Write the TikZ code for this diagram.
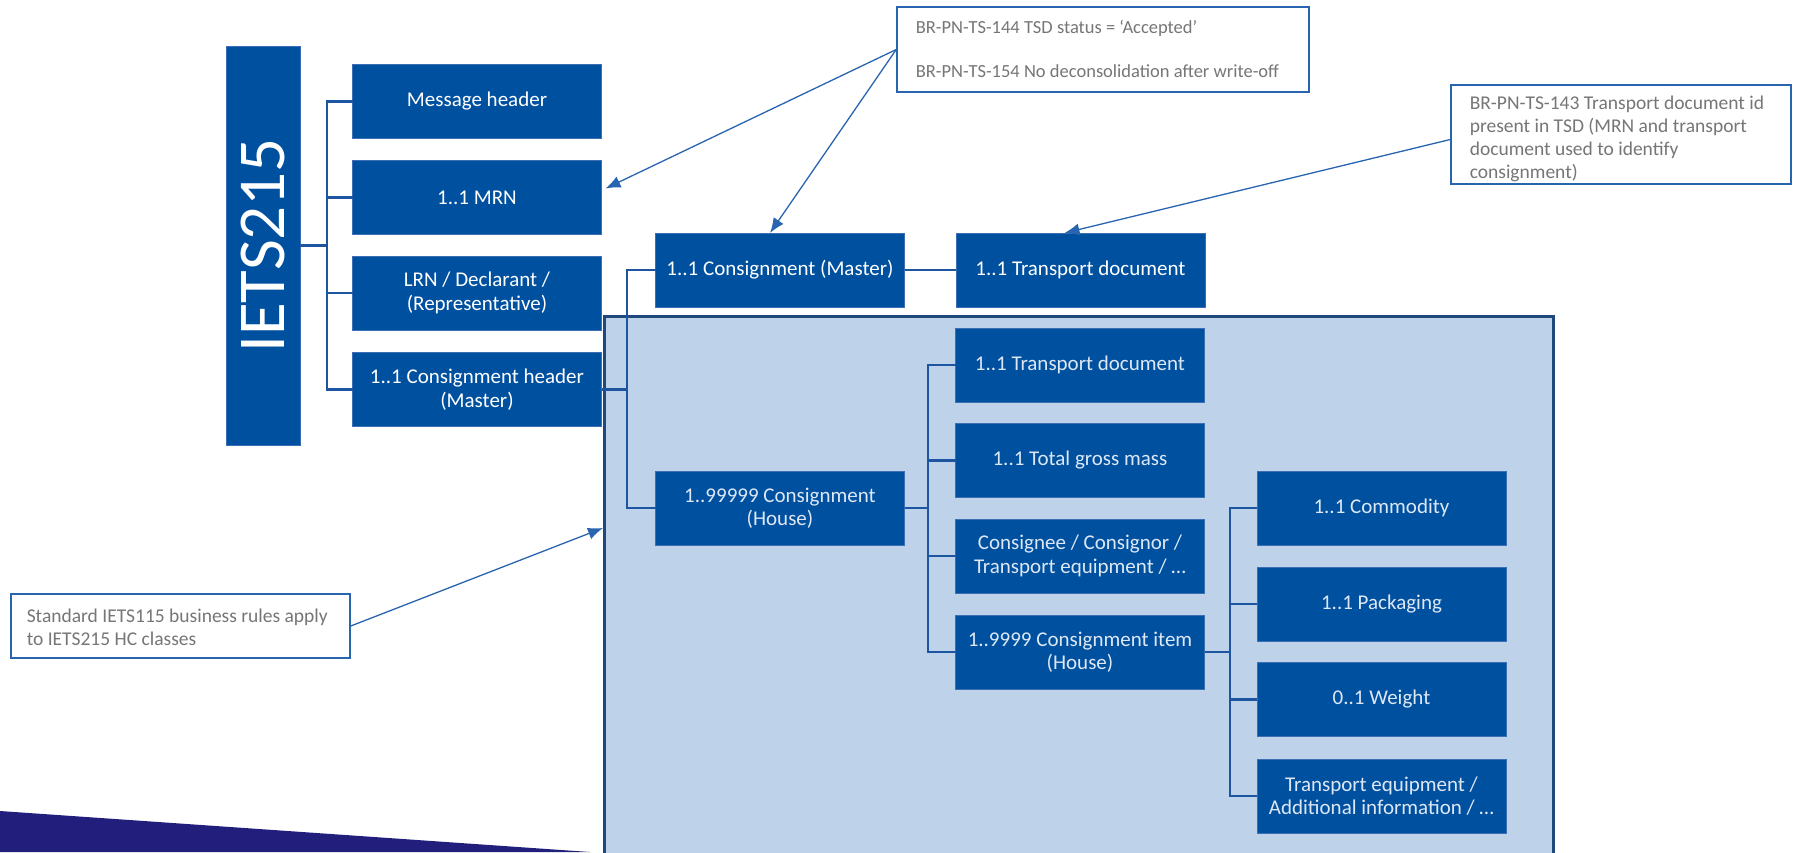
\documentclass[tikz,border=0pt]{standalone}
\usepackage{fontspec}
\setmainfont{Carlito}
\usepackage{graphicx}
\usetikzlibrary{arrows.meta,calc}
\definecolor{boxblue}{RGB}{0,80,160}
\definecolor{boxedge}{RGB}{60,110,180}
\definecolor{regionfill}{RGB}{190,211,233}
\definecolor{regionedge}{RGB}{31,73,125}
\definecolor{connblue}{RGB}{30,85,160}
\definecolor{callblue}{RGB}{40,100,175}
\definecolor{graytext}{RGB}{118,118,118}
\definecolor{navyband}{RGB}{34,31,124}
\definecolor{lighttext}{RGB}{222,232,245}
\begin{document}
\begin{tikzpicture}[x=1pt,y=-1pt,
  box/.style={fill=boxblue, draw=boxedge, line width=1pt, minimum width=249pt, minimum height=74pt, inner sep=0pt, outer sep=0pt, align=center, text=white, font=\fontsize{21}{23.5}\selectfont},
  inbox/.style={box, text=lighttext},
  bar/.style={fill=boxblue, draw=boxedge, line width=1pt, minimum width=74pt, minimum height=399pt, inner sep=0pt, outer sep=0pt, text=white, font=\fontsize{67}{67}\selectfont},
  conn/.style={draw=connblue, line width=2.5pt},
  callout/.style={draw=callblue, line width=1.5pt, fill=white, inner sep=0pt},
  calltext/.style={text=graytext, align=left, inner ysep=0pt, font=\fontsize{19.5}{23}\selectfont},
  callarrow/.style={draw=callblue, line width=1.3pt, -{Latex[length=15pt,width=12pt]}}
]
\useasboundingbox (0,0) rectangle (1801,852);
\clip (0,0) rectangle (1801,852);
\fill[navyband] (0,811) -- (590,852) -- (0,852) -- cycle;
\node[draw=regionedge, line width=2.5pt, fill=regionfill, minimum width=949pt, minimum height=560pt, inner sep=0pt, anchor=north west] (region) at (603,315) {};
\coordinate (rtip) at (603,528);

\node[bar] (iets) at (263,245.5) {\rotatebox{90}{IETS215}};
\node[box] (mh) at (477,101.5) {Message header};
\node[box] (mrn) at (477,197.5) {1..1 MRN};
\node[box] (lrn) at (477,293) {LRN / Declarant /\\(Representative)};
\node[box] (ch) at (477,389.5) {1..1 Consignment header\\(Master)};
\node[box] (master) at (780,270) {1..1 Consignment (Master)};
\node[box] (td0) at (1080.5,270) {1..1 Transport document};
\node[inbox] (house) at (780,508) {1..99999 Consignment\\(House)};
\node[inbox] (td1) at (1080,365) {1..1 Transport document};
\node[inbox] (tgm) at (1080,460.5) {1..1 Total gross mass};
\node[inbox] (cne) at (1080,556) {Consignee / Consignor /\\Transport equipment / …};
\node[inbox] (item) at (1080,652) {1..9999 Consignment item\\(House)};
\node[inbox] (comm) at (1381.5,508) {1..1 Commodity};
\node[inbox] (pack) at (1381.5,604) {1..1 Packaging};
\node[inbox] (wt) at (1381.5,699.5) {0..1 Weight};
\node[inbox] (te) at (1381.5,796) {Transport equipment /\\Additional information / …};

\coordinate (j1) at (327,0);
\coordinate (j2) at (627,0);
\coordinate (j3) at (928,0);
\coordinate (j4) at (1230,0);

\draw[conn] (iets.east) -- (iets.east -| j1);
\draw[conn] (mh.west) -- (mh.west -| j1) -- (ch.west -| j1) -- (ch.west);
\foreach \n in {mrn,lrn} \draw[conn] (\n.west -| j1) -- (\n.west);

\draw[conn] (ch.east) -- (ch.east -| j2);
\draw[conn] (master.west) -- (master.west -| j2) -- (house.west -| j2) -- (house.west);
\draw[conn] (master.east) -- (td0.west);

\draw[conn] (house.east) -- (house.east -| j3);
\draw[conn] (td1.west) -- (td1.west -| j3) -- (item.west -| j3) -- (item.west);
\foreach \n in {tgm,cne} \draw[conn] (\n.west -| j3) -- (\n.west);

\draw[conn] (item.east) -- (item.east -| j4);
\draw[conn] (comm.west) -- (comm.west -| j4) -- (te.west -| j4) -- (te.west);
\foreach \n in {pack,wt} \draw[conn] (\n.west -| j4) -- (\n.west);

\node[callout, minimum width=412pt, minimum height=85pt] (c1) at (1103,49.5) {};
\node[calltext, font=\fontsize{18.5}{22}\selectfont, anchor=west] (c1t) at ([xshift=16pt,yshift=1pt]c1.west) {BR-PN-TS-144 TSD status = ‘Accepted’\\[22pt]BR-PN-TS-154 No deconsolidation after write-off};
\node[callout, minimum width=340pt, minimum height=99pt] (c2) at (1621,134.5) {};
\node[calltext, anchor=west] (c2t) at ([xshift=16pt,yshift=-4pt]c2.west) {BR-PN-TS-143 Transport document id\\present in TSD (MRN and transport\\document used to identify\\consignment)};
\node[callout, minimum width=339pt, minimum height=64pt] (c3) at (180.5,626) {};
\node[calltext, anchor=west] (c3t) at ([xshift=13pt,yshift=-1pt]c3.west) {Standard IETS115 business rules apply\\to IETS215 HC classes};

\draw[callarrow] (c1.west) -- ([xshift=4pt,yshift=9pt]mrn.east);
\draw[callarrow] (c1.west) -- ([xshift=-10pt]master.north);
\draw[callarrow] ([yshift=-5pt]c2.west) -- ([xshift=-16pt]td0.north);
\draw[callarrow] (c3.east) -- (rtip);
\end{tikzpicture}
\end{document}
